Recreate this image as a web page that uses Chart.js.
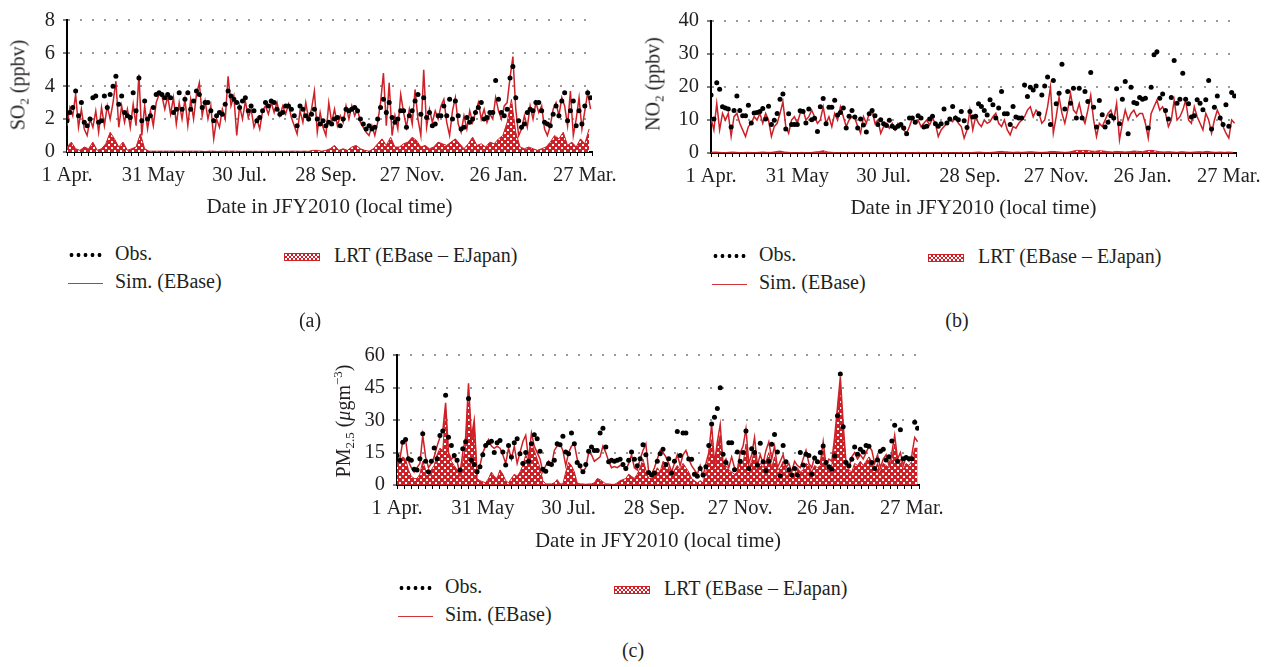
<!DOCTYPE html>
<html>
<head>
<meta charset="utf-8">
<title>JFY2010 daily SO2, NO2 and PM2.5</title>
<script src="https://cdn.jsdelivr.net/npm/chart.js@4.4.1/dist/chart.umd.min.js"></script>
<style>
body{margin:0;background:#fff;width:1271px;height:667px;overflow:hidden;position:relative;font-family:'Liberation Serif','Times New Roman',serif;color:#231f20;}
.cv{position:absolute;}
.ytitle{position:absolute;font-size:20px;white-space:nowrap;transform:translate(-50%,-50%) rotate(-90deg);}
.ytitle sub{font-size:13px;vertical-align:-4px;line-height:0;}
.ytitle sup{font-size:13px;vertical-align:8px;line-height:0;}
.lg{position:absolute;font-size:20px;line-height:24px;height:24px;white-space:nowrap;}
.mk{display:inline-block;vertical-align:middle;}
.mk-obs{width:35px;height:6px;margin-right:12px;background:radial-gradient(circle,#000 1.7px,rgba(0,0,0,0) 2.2px) 0 0/7px 6px repeat-x;}
.mk-sim{width:35px;height:1.5px;margin-right:12px;background:#d2343a;}
.mk-lrt{width:34px;height:6px;margin-right:14px;border:1px solid #cd2027;background:repeating-conic-gradient(#cd2027 0 25%,#fff 0 50%) 0 0/4px 4px;}
.cap{position:absolute;font-size:20px;transform:translate(-50%,-50%);}
</style>
</head>
<body>
<canvas id="chA" class="cv" width="640" height="225" style="left:0;top:0"></canvas>
<canvas id="chB" class="cv" width="627" height="225" style="left:644px;top:0"></canvas>
<canvas id="chC" class="cv" width="640" height="225" style="left:330px;top:335px"></canvas>

<div class="ytitle" style="left:18px;top:85px">SO<sub>2</sub> (ppbv)</div>
<div class="ytitle" style="left:653px;top:84px">NO<sub>2</sub> (ppbv)</div>
<div class="ytitle" style="left:343px;top:421px">PM<sub>2.5</sub> (<i>μ</i>gm<sup>−3</sup>)</div>

<div class="cap" style="left:310px;top:320px">(a)</div>
<div class="cap" style="left:957px;top:320px">(b)</div>
<div class="cap" style="left:633px;top:650px">(c)</div>

<script>
var RED='#cd2027';
var INK='#231f20';
var FONT={family:"'Liberation Serif', 'Times New Roman', serif",size:20.5};
var TITLE_FONT={family:"'Liberation Serif', 'Times New Roman', serif",size:21};

// x axis: days since 1 Apr 2010, labelled every 60 days
var dateLabels=['1 Apr.','31 May','30 Jul.','28 Sep.','27 Nov.','26 Jan.','27 Mar.'];
var xTitle='Date in JFY2010 (local time)';
var legendNames=['Obs.','Sim. (EBase)','LRT (EBase \u2013 EJapan)'];

// obs and sim are every 2nd day, LRT for SO2/NO2 every 3rd day, PM2.5 LRT every 2nd day
var OBS_STEP=2, SIM_STEP=2;

var obsSO2=[1.9,2.4,2.7,3.7,2.2,3.0,1.8,1.6,2.0,3.3,
3.4,1.8,1.9,3.4,2.7,3.5,4.0,4.6,2.9,3.4,
2.4,2.2,2.1,3.6,2.5,4.5,1.9,3.1,2.0,2.2,
2.7,3.5,3.6,3.5,3.3,3.5,3.3,2.4,2.6,3.6,
2.6,3.2,3.6,2.6,3.1,3.7,3.5,2.7,3.0,3.0,
2.5,1.9,2.2,2.4,2.3,2.9,3.7,3.4,3.2,3.0,
2.7,3.1,3.3,2.5,2.8,2.5,1.9,2.1,2.5,3.0,
2.8,3.1,3.0,2.6,2.3,2.4,2.8,2.8,2.6,2.2,
1.6,2.8,2.6,2.2,2.0,2.3,2.6,2.0,1.7,1.9,
1.6,1.8,1.7,2.0,2.1,1.6,2.0,2.6,2.5,2.6,
2.7,2.5,2.0,1.7,1.4,1.6,1.4,1.5,2.0,2.7,
3.2,2.4,3.0,2.1,1.8,2.0,2.5,2.5,1.5,2.2,
2.5,3.1,3.5,2.3,3.3,2.1,2.4,1.6,1.7,2.2,
2.2,2.8,2.2,3.2,2.0,3.1,2.2,1.4,1.5,2.1,
1.8,2.0,2.4,2.7,3.0,2.0,2.1,2.4,2.4,4.35,
3.2,2.4,2.2,2.6,4.5,5.2,3.3,1.9,1.5,1.7,
2.4,2.6,2.5,3.0,3.0,2.5,1.8,1.7,1.6,2.3,
2.8,2.2,3.1,3.6,1.9,2.5,3.1,1.6,2.5,1.7,
2.8,3.6,3.3];
var simSO2=[1.6,2.7,2.2,3.5,1.5,2.6,1.4,1.0,2.0,1.5,
2.5,1.2,2.7,1.6,2.8,2.0,3.0,4.3,1.5,2.8,
1.8,2.6,1.5,2.9,1.6,4.7,1.0,2.8,1.4,2.5,
1.6,3.0,3.5,3.4,2.6,3.4,2.3,3.3,1.7,3.0,
2.0,3.2,1.6,3.2,2.0,3.5,4.2,2.2,3.1,2.0,
2.8,0.8,2.0,1.5,2.6,2.0,4.6,2.8,3.4,1.0,
2.8,2.0,3.1,2.1,2.6,1.5,2.0,1.4,2.5,2.8,
2.3,3.0,2.4,3.0,2.2,2.8,2.3,2.9,2.1,1.6,
1.1,2.5,1.8,3.0,2.0,2.6,3.7,1.2,2.4,1.5,
1.0,3.0,1.8,2.6,1.6,2.2,1.8,2.8,2.0,2.8,
2.2,2.6,1.8,1.5,1.2,1.0,1.6,1.0,1.8,3.0,
4.8,1.6,4.2,1.0,2.2,1.4,3.5,2.4,1.5,2.6,
1.7,3.8,2.0,1.0,5.0,1.5,2.6,1.8,2.5,2.0,
2.8,3.2,1.8,1.0,2.5,3.3,1.7,1.2,2.2,1.4,
2.5,1.8,2.4,3.0,2.0,2.6,1.8,2.3,2.0,3.3,
2.5,2.0,2.8,3.0,4.5,5.8,2.6,1.0,1.4,2.2,
1.5,2.8,2.0,3.0,2.4,2.8,1.4,1.0,1.6,2.6,
3.0,2.2,3.3,2.8,1.6,3.7,1.0,2.0,3.3,1.4,
2.5,3.6,2.6];
var lrtSO2=[0.3,0.6,0.2,0.1,0.3,0.2,0.6,0.1,0.2,0.5,
1.2,0.8,0.3,0.6,0.1,0.2,0.3,1.1,0.2,0.05,
0.05,0.05,0.05,0.05,0.05,0.05,0.05,0.05,0.05,0.05,
0.05,0.05,0.03,0.05,0.05,0.03,0.05,0.05,0.05,0.05,
0.04,0.04,0.04,0.04,0.04,0.04,0.04,0.04,0.04,0.04,
0.04,0.04,0.05,0.05,0.04,0.05,0.04,0.1,0.1,0.05,
0.1,0.2,0.4,0.1,0.2,0.1,0.3,0.4,0.2,0.1,
0.05,0.2,0.5,0.8,0.4,0.9,0.3,0.3,0.5,0.6,
0.9,0.7,0.3,0.4,0.2,0.3,0.6,0.5,0.4,0.6,
0.8,0.5,0.2,0.5,0.9,0.4,0.5,0.3,0.6,0.5,
0.8,1.0,1.8,3.2,1.2,0.3,0.2,0.3,0.2,0.1,
0.2,0.3,0.6,1.0,0.8,1.2,0.4,0.6,0.3,0.8,
0.5,1.4];

var obsNO2=[17.6,10.3,21.3,19.3,14.0,13.6,13.3,7.9,12.9,17.3,
12.9,11.3,11.3,14.5,9.1,12.1,12.3,12.6,13.5,10.3,
14.2,8.6,9.9,12.0,16.3,17.9,7.3,11.9,8.6,8.6,
8.6,12.8,12.6,9.1,13.3,10.1,10.5,6.5,14.0,16.5,
8.9,13.9,13.9,16.0,11.5,12.3,13.6,7.6,11.1,12.9,
10.9,7.6,10.3,8.5,6.4,11.9,12.9,11.3,8.6,10.1,
8.9,8.3,9.9,8.1,7.6,8.1,8.6,7.6,5.8,10.6,
10.6,9.3,11.3,10.6,7.9,8.1,10.3,11.1,8.9,8.1,
8.9,13.3,9.1,10.3,14.1,10.6,10.1,12.6,9.8,7.7,
12.6,10.9,11.1,14.9,14.1,12.9,11.5,16.1,14.6,10.6,
13.6,18.6,11.9,11.9,8.6,14.1,10.9,10.6,10.6,20.6,
17.1,19.9,19.1,20.3,11.9,17.6,20.3,23.0,8.6,22.0,
14.9,18.1,26.9,13.3,18.6,15.1,19.6,10.6,19.6,10.6,
18.6,15.6,24.4,13.9,7.9,15.9,11.6,7.9,9.3,11.3,
10.6,19.5,8.9,16.3,21.7,5.8,19.9,15.3,15.0,16.8,
16.3,16.6,7.6,19.9,29.8,30.7,16.6,17.9,12.9,10.3,
16.8,28.0,15.1,16.3,24.2,16.3,14.9,10.9,11.3,16.1,
15.1,13.1,16.1,22.0,7.3,13.9,17.3,10.6,8.6,14.6,
8.1,18.3,17.3];
var simNO2=[10.5,7,15,7,12,10,12,5,11,12,
9,7,5,8,9,11,10,12,9,12,
10,5,8,9,12,15.5,8,6,10,11,
9,12,13,10,11,13,11,9,10,14,
9,11,8,12,10,14,11,8,10,11,
10.5,8,6,11,9,12,13,9,10,6,
8,9,7.5,9,7,9,8,7,6,8,
10.5,9,10,8,9,10,8.5,10.5,9,5,
7,8,9,10,9.5,11,9,8,4.5,7,
13,7,11,9,8,10,9,9.5,11,12,
9,8,10,7,5.5,8,7.5,9,10,11,
13,14,11,13,12,9,10,14,20,6,
11,17,12,9,13,18,13,12,15,11,
9,13,17.5,10,5,9,8,10,12,13,
10,15,4,9,13,10,12,13,11,12,
12,9,4.5,12,14,16,13,14,12,8,
10,16,10,11,13,16,10,9,14,11,
9,7,12,10,6,10,13,11,8,6,
4.5,10,9];
var lrtNO2=[0.2,0.3,0.2,0.1,0.2,0.3,0.2,0.1,0.2,0.2,
0.1,0.2,0.3,0.2,0.2,0.4,0.6,0.3,0.2,0.1,
0.1,0.2,0.1,0.1,0.3,0.4,0.7,0.3,0.2,0.1,
0.1,0.1,0.2,0.1,0.1,0.1,0.2,0.1,0.1,0.1,
0.1,0.1,0.1,0.2,0.1,0.1,0.1,0.1,0.2,0.1,
0.1,0.1,0.1,0.1,0.2,0.1,0.1,0.1,0.2,0.1,
0.1,0.2,0.3,0.2,0.1,0.2,0.3,0.5,0.4,0.3,
0.2,0.3,0.2,0.3,0.4,0.3,0.2,0.2,0.3,0.5,
0.4,0.3,0.2,0.3,0.6,0.8,0.7,0.8,0.6,0.5,
0.7,0.6,0.4,0.3,0.5,0.4,0.3,0.4,0.6,0.5,
0.4,0.7,0.8,0.6,0.4,0.3,0.4,0.3,0.2,0.4,
0.3,0.2,0.3,0.4,0.3,0.5,0.3,0.2,0.3,0.2,
0.3,0.2];

var obsPM=[13.7,11.5,19.8,21.0,12.2,11.5,7.3,6.9,12.2,23.7,
11.0,6.1,11.0,17.1,12.2,22.9,25.0,41.5,22.1,18.3,
13.7,11.5,6.9,16.8,20.0,40.0,11.5,9.5,6.1,8.4,
14.0,18.3,19.5,20.2,15.0,19.5,20.6,15.3,9.2,18.3,
13.0,19.5,21.4,14.5,9.9,15.0,11.0,19.1,23.2,21.4,
15.6,7.3,6.4,9.9,9.5,11.5,19.1,18.6,22.6,15.3,
14.5,24.1,19.1,10.4,8.9,6.1,9.5,15.6,17.6,16.0,
16.0,24.1,26.3,17.6,10.7,11.5,11.0,11.5,11.9,9.5,
7.6,11.5,15.3,11.9,8.9,12.2,18.6,14.0,5.8,4.6,
5.5,11.0,14.5,16.5,9.5,12.2,5.5,11.0,24.7,13.7,
24.1,24.0,12.0,11.9,5.0,4.0,7.6,4.6,8.4,18.3,
28.2,31.3,35.4,45.0,14.2,10.4,19.5,19.5,7.0,15.3,
11.0,15.0,25.0,7.6,16.8,15.0,9.2,19.3,10.7,6.6,
11.0,18.8,23.4,15.3,4.3,18.3,10.7,7.0,4.6,7.6,
4.6,15.0,9.2,14.2,13.7,5.0,12.5,10.7,15.0,18.0,
10.4,8.5,7.3,13.4,32.0,51.3,27.0,10.4,8.9,11.9,
17.6,14.2,16.5,15.3,18.3,17.9,10.4,7.6,11.6,15.6,
16.5,11.6,13.1,20.4,27.6,11.0,25.6,12.2,12.7,12.2,
12.2,29.0,26.3];
var simPM=[10,12,20,21,11,8,6,8,10,23,
13,8,10,13,18,22,25,38,15,12,
13,11,5,15,22,47,22,30,5,9,
15,18,21,18,17,18,17,14,10,17,
12,18,10,15,20,23,12,24,18,15,
12,6,9,11,9,16,18,19,16,9,
15,18,19,12,8,6,8,15,14,11,
12,13,18,15,11,8,8.5,8,9,9,
7,10,14,8,7,12,16,19,6,5,
8,12,16,15,13,10,6,10,14,9,
14,16,12,9,7,5,9,4,10,15,
28,10,20,28,10,12,8,13,8,7,
15,18,26,10,14,22,9,14,10,16,
20,12,18,8,11,14,8,10,6,11,
9,8,12,16,10,8,13,11,10,20,
9,12,11,22,36,50,28,10,8,13,
15,12,14,12,15,18,16,10,14,8,
12,14,9,15,23,12,15,9,13,11,
14,22,20];
var lrtPM=[10,11,13,12,7,4,3,3,5,11,
7,5,7,9,14,17,16,35,14,11,
9,7,4,11,18,45,20,28,3,2,
1.5,1,3,6,4,3,7,5,2,1,
3,5,4,6,9,14,11,20,16,12,
8,2,0.5,0.5,0.5,1,2.5,0.5,0.5,6,
10.5,9,6,1,0.5,0.5,0.3,0.5,0.5,1,
3,2.5,1.5,0.5,0.5,0.3,0.3,1,2,2.5,
3,5,4,3,5,8,12,7,3,3,
5,8,6,11,10,8,4,7,9,7,
10,8,6,3,2,1,2,1,6,13,
21,8,18,23,9,9,7,6,5,6,
11,10,19,8,11,16,7,10,8,11,
15,8,13,7,8,11,6,7,5,5,
8,6,7,10,9,6,9,8,9,16,
7,9,9,19,33,46,25,9,7,6,
10,9,11,9,11,13,11,7,10,6,
10,9,8,12,19,10,12,7,10,9,
11,17,17];

function series(vals,step){
    return vals.map(function(v,i){return {x:i*step,y:v};});
}

// red tile with small white squares, used for the LRT area
var tile=document.createElement('canvas');
tile.width=6;tile.height=6;
(function(){
    var g=tile.getContext('2d');
    g.fillStyle=RED;g.fillRect(0,0,6,6);
    g.fillStyle='#fff';g.fillRect(0,0,2,2);g.fillRect(3,3,2,2);
})();

function drawPanel(id,p){
    var ctx=document.getElementById(id).getContext('2d');
    var hatch=ctx.createPattern(tile,'repeat');
    return new Chart(ctx,{
        type:'line',
        data:{datasets:[
            {label:legendNames[0],data:series(p.obs,OBS_STEP),showLine:false,pointRadius:2.5,pointBorderWidth:0,pointBackgroundColor:'#000',borderColor:'#000',order:0},
            {label:legendNames[1],data:series(p.sim,SIM_STEP),borderColor:RED,borderWidth:1.5,pointRadius:0,fill:false,tension:0,order:1},
            {label:legendNames[2],data:series(p.lrt,p.lrtStep),borderColor:RED,borderWidth:1,backgroundColor:hatch,pointRadius:0,fill:'origin',tension:0,order:2}
        ]},
        options:{
            responsive:false,animation:false,
            layout:{padding:{top:p.top,right:p.right,left:0,bottom:0}},
            plugins:{legend:{display:false},tooltip:{enabled:false}},
            scales:{
                x:{type:'linear',min:0,max:365,
                    afterFit:function(s){s.height=p.xh;},
                    grid:{drawOnChartArea:false,tickLength:4,tickColor:'#000',tickWidth:1},
                    border:{color:'#000',width:2},
                    ticks:{stepSize:5,autoSkip:false,maxRotation:0,maxTicksLimit:1000,padding:7,color:INK,font:FONT,
                        callback:function(v){return v%60===0?dateLabels[v/60]:'';}},
                    title:{display:true,text:xTitle,color:INK,font:TITLE_FONT,padding:{top:0,bottom:p.tpad}}
                },
                y:{min:0,max:p.max,
                    afterFit:function(s){s.width=67;},
                    ticks:{stepSize:p.minor,maxTicksLimit:1000,padding:8,color:INK,font:FONT,
                        callback:function(v){return v%p.major===0?v:'';}},
                    grid:{tickLength:4,tickColor:'#000',tickWidth:1,lineWidth:2,
                        color:function(c){return c.tick&&c.tick.value>0&&c.tick.value%p.major===0?'#9a9a9a':'rgba(0,0,0,0)';}},
                    border:{color:'#000',width:2,dash:[2,10]}
                }
            }
        }
    });
}

function legend(x0,yAxis){
    var s='';
    s+='<div class="lg" style="left:'+(x0+1)+'px;top:'+(yAxis+101-12)+'px"><span class="mk mk-obs"></span>'+legendNames[0]+'</div>';
    s+='<div class="lg" style="left:'+(x0+1)+'px;top:'+(yAxis+129-12)+'px"><span class="mk mk-sim"></span>'+legendNames[1]+'</div>';
    s+='<div class="lg" style="left:'+(x0+217)+'px;top:'+(yAxis+103-12)+'px"><span class="mk mk-lrt"></span>'+legendNames[2]+'</div>';
    document.body.insertAdjacentHTML('beforeend',s);
}

drawPanel('chA',{obs:obsSO2,sim:simSO2,lrt:lrtSO2,lrtStep:3,max:8,minor:2,major:2,top:19,right:48,xh:73,tpad:5});
drawPanel('chB',{obs:obsNO2,sim:simNO2,lrt:lrtNO2,lrtStep:3,max:40,minor:5,major:10,top:21,right:35,xh:72,tpad:4});
drawPanel('chC',{obs:obsPM,sim:simPM,lrt:lrtPM,lrtStep:2,max:60,minor:7.5,major:15,top:19,right:51,xh:75,tpad:6});

legend(67,152);
legend(711,153);
legend(397,485);
</script>
</body>
</html>
